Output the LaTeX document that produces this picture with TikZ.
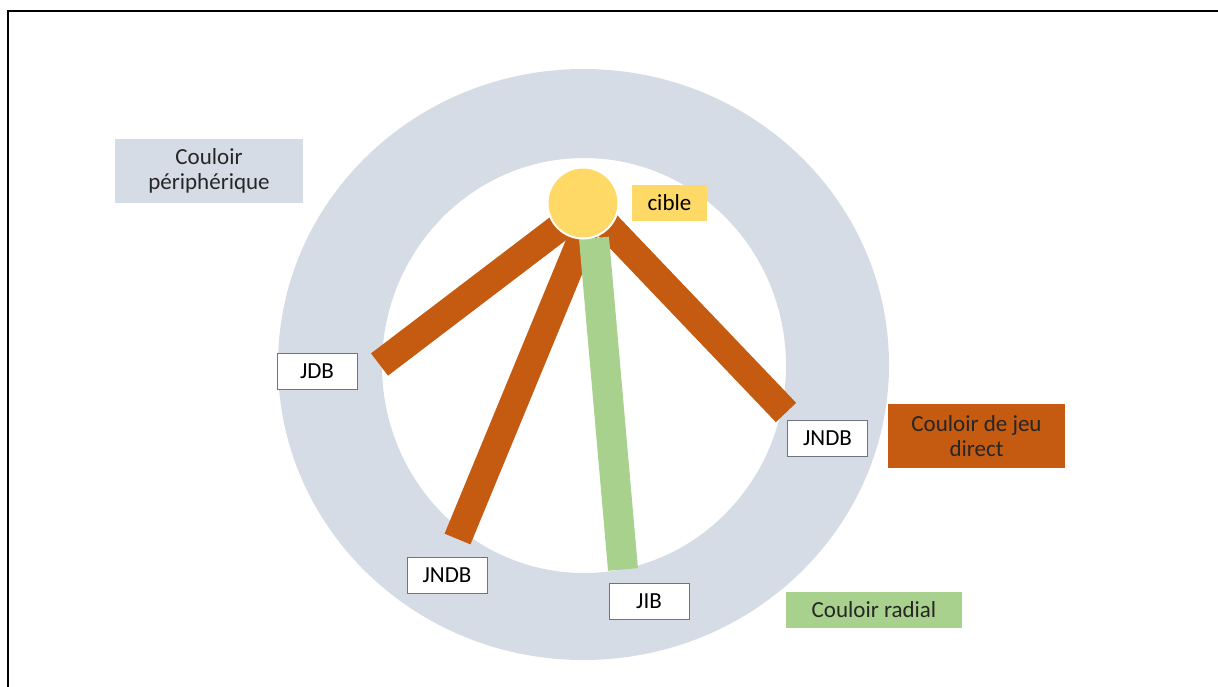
\documentclass[tikz,border=0pt]{standalone}
\usepackage{fontspec}
\setmainfont{Carlito}
\usepackage{tikz}
\usetikzlibrary{positioning}
\definecolor{ring}{HTML}{D6DCE5}
\definecolor{direct}{HTML}{C55A11}
\definecolor{radial}{HTML}{A9D18E}
\definecolor{target}{HTML}{FFD966}
\definecolor{edge}{HTML}{6F7480}
\tikzstyle{tagbox}  = [rectangle, minimum width=40pt, minimum height=18pt, inner sep=0, text centered, draw=edge, line width=0.4pt, fill=white]
\tikzstyle{zonebox} = [rectangle, minimum height=32pt, inner sep=0, align=center, text=black!85]
\tikzstyle{bar}     = [line width=14pt, line cap=butt]

\begin{document}
\begin{tikzpicture}[x=0.5pt, y=-0.5pt, font=\fontsize{11.5}{12.5}\selectfont]
        \useasboundingbox (0,0) rectangle (1218,686);
        \clip (0,0) rectangle (1218,686);
        \draw [line width=1pt] (8,700) -- (8,11) -- (1230,11);

        % ring
        \fill [ring, even odd rule] (583.5,364.5) ellipse [x radius=152.75pt, y radius=147.75pt]
                                    (584,365.5) ellipse [x radius=101pt, y radius=103.75pt];

        \coordinate (hubA) at (572,218);
        \coordinate (endA) at (379.5,364.5);
        \coordinate (hubB) at (588.5,222);
        \coordinate (endB) at (457.5,539);
        \coordinate (hubC) at (600,217.6);
        \coordinate (endC) at (786,412.5);
        \coordinate (hubR) at (594,238);
        \coordinate (endR) at (623,569.5);

        \draw [bar, direct] (hubA) -- (endA);
        \draw [bar, direct] (hubB) -- (endB);
        \draw [bar, direct] (hubC) -- (endC);
        \draw [bar, radial, line width=15pt] (hubR) -- (endR);

        \node (cible) [circle, fill=target, draw=white, line width=1pt, minimum size=35.5pt, inner sep=0] at (583,203) {};
        \node (cibletxt) [tagbox, draw=none, fill=target, minimum width=37.5pt, right=6pt of cible] {cible};

        \node (jdb) [tagbox] at (317,371) {JDB};
        \node (jndbB) [tagbox] at (447,575.5) {JNDB};
        \node (jib) [tagbox] at (649,601) {JIB};
        \node (jndbC) [tagbox] at (827.5,438.5) {JNDB};

        \node (periph) [zonebox, fill=ring, minimum width=94pt] at (209,171) {Couloir\\périphérique};
        \node (directtxt) [zonebox, fill=direct, minimum width=88.5pt] at (976.5,436) {Couloir de jeu\\direct};
        \node (radialtxt) [zonebox, fill=radial, minimum width=88pt, minimum height=18pt] at (874,610) {Couloir radial};
    \end{tikzpicture}
\end{document}
